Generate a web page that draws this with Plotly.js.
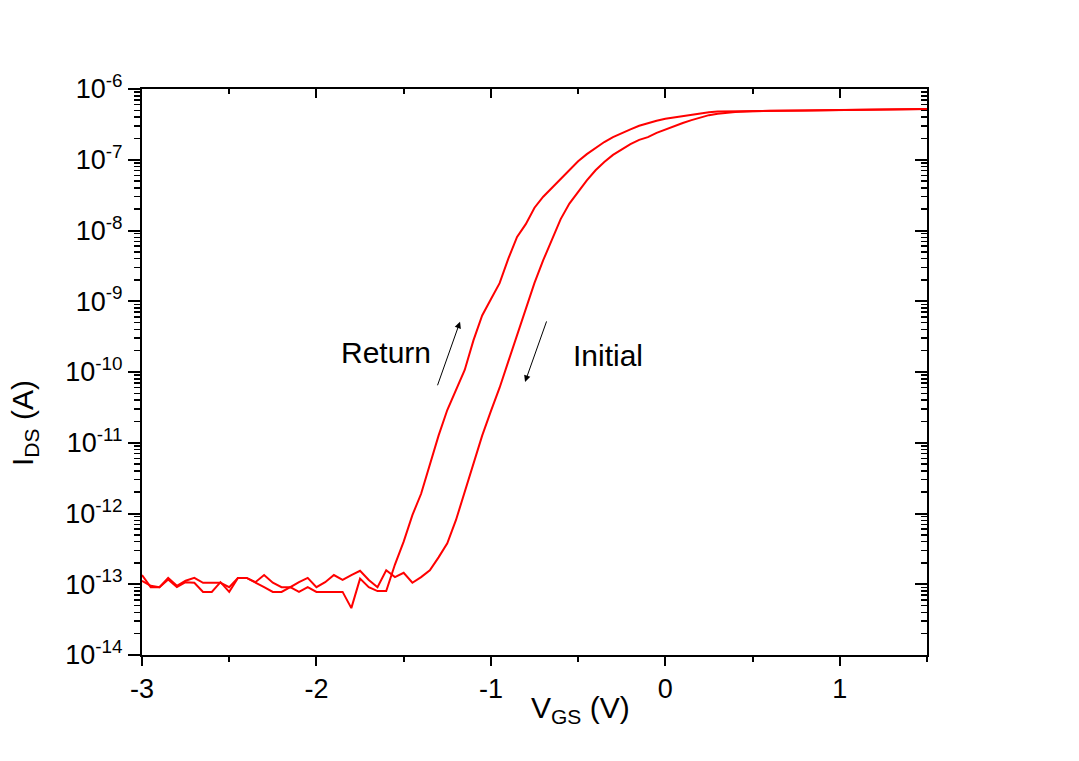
<!DOCTYPE html>
<html>
<head>
<meta charset="utf-8">
<script src="https://cdn.plot.ly/plotly-3.0.1.min.js"></script>
<style>html,body{margin:0;padding:0;background:#fff;}#chart{width:1079px;height:761px;}</style>
</head>
<body>
<div id="chart"></div>
<script>
// Gate voltage V_GS (V)
const vgs = [-3.00,-2.95,-2.90,-2.85,-2.80,-2.75,-2.70,-2.65,-2.60,-2.55,
  -2.50,-2.45,-2.40,-2.35,-2.30,-2.25,-2.20,-2.15,-2.10,-2.05,
  -2.00,-1.95,-1.90,-1.85,-1.80,-1.75,-1.70,-1.65,-1.60,-1.55,
  -1.50,-1.45,-1.40,-1.35,-1.30,-1.25,-1.20,-1.15,-1.10,-1.05,
  -1.00,-0.95,-0.90,-0.85,-0.80,-0.75,-0.70,-0.65,-0.60,-0.55,
  -0.50,-0.45,-0.40,-0.35,-0.30,-0.25,-0.20,-0.15,-0.10,-0.05,
  0.00,0.05,0.10,0.15,0.20,0.25,0.30,0.40,0.50,0.60,0.80,1.00,1.20,1.40,1.50];

// Initial sweep I_DS (A)
const idsInitial = [1.12e-13,9.5e-14,9.1e-14,1.23e-13,9.5e-14,1.12e-13,1.23e-13,1.05e-13,1.05e-13,1.05e-13,
  9.1e-14,1.23e-13,1.23e-13,1.07e-13,1.35e-13,1.05e-13,9.1e-14,9.1e-14,1.07e-13,1.23e-13,
  9.1e-14,1.07e-13,1.35e-13,1.15e-13,1.35e-13,1.55e-13,1.15e-13,9.1e-14,1.58e-13,1.26e-13,
  1.45e-13,1.05e-13,1.26e-13,1.58e-13,2.4e-13,3.8e-13,8.1e-13,2.04e-12,5.1e-12,1.26e-11,
  2.8e-11,6.0e-11,1.41e-10,3.3e-10,7.9e-10,1.82e-9,3.8e-9,7.6e-9,1.45e-8,2.4e-8,
  3.5e-8,5.1e-8,7.1e-8,9.3e-8,1.17e-7,1.41e-7,1.66e-7,1.91e-7,2.09e-7,2.40e-7,
  2.69e-7,2.95e-7,3.31e-7,3.63e-7,3.98e-7,4.27e-7,4.47e-7,4.73e-7,4.86e-7,4.92e-7,4.98e-7,5.04e-7,5.1e-7,5.17e-7,5.2e-7];

// Return sweep I_DS (A)
const idsReturn = [1.35e-13,9.1e-14,9.1e-14,1.17e-13,9.1e-14,1.07e-13,1.05e-13,7.8e-14,7.8e-14,1.07e-13,
  7.8e-14,1.23e-13,1.23e-13,1.07e-13,9.1e-14,7.8e-14,7.8e-14,9.1e-14,7.8e-14,9.1e-14,
  7.8e-14,7.8e-14,7.8e-14,7.8e-14,4.6e-14,1.2e-13,9.1e-14,8.0e-14,8.0e-14,1.9e-13,
  4.0e-13,9.5e-13,1.9e-12,4.8e-12,1.26e-11,2.9e-11,5.6e-11,1.07e-10,2.8e-10,6.3e-10,
  1.07e-9,1.8e-9,4.0e-9,8.1e-9,1.23e-8,2.1e-8,3.0e-8,4.0e-8,5.2e-8,7.1e-8,
  9.5e-8,1.20e-7,1.48e-7,1.78e-7,2.09e-7,2.40e-7,2.69e-7,3.02e-7,3.31e-7,3.55e-7,
  3.80e-7,3.98e-7,4.17e-7,4.37e-7,4.52e-7,4.68e-7,4.79e-7,4.85e-7,4.88e-7,4.92e-7,4.98e-7,5.04e-7,5.1e-7,5.17e-7,5.2e-7];

// Y tick labels
const yTickVals = [1e-14,1e-13,1e-12,1e-11,1e-10,1e-9,1e-8,1e-7,1e-6];
const yTickText = ['10<sup>-14</sup>','10<sup>-13</sup>','10<sup>-12</sup>','10<sup>-11</sup>','10<sup>-10</sup>',
  '10<sup>-9</sup>','10<sup>-8</sup>','10<sup>-7</sup>','10<sup>-6</sup>'];
const xTickVals = [-3,-2,-1,0,1];
const xTickText = ['-3','-2','-1','0','1'];

// minor log tick positions (2..9 per decade)
const minorY = [];
for (let e = -14; e < -6; e++) { for (let m = 2; m <= 9; m++) minorY.push(m * Math.pow(10, e)); }

const font = 'Liberation Sans, Arial, sans-serif';
const red = '#ff0000';

const traces = [
  {x: vgs, y: idsInitial, type: 'scatter', mode: 'lines', name: 'Initial',
   line: {color: red, width: 2}, xaxis: 'x', yaxis: 'y', hoverinfo: 'x+y'},
  {x: vgs, y: idsReturn, type: 'scatter', mode: 'lines', name: 'Return',
   line: {color: red, width: 2}, xaxis: 'x', yaxis: 'y', hoverinfo: 'x+y'},
  {x: [], y: [], type: 'scatter', mode: 'lines', xaxis: 'x2', yaxis: 'y2', showlegend: false}
];

const layout = {
  width: 1079, height: 761,
  margin: {l: 142, r: 152, t: 89, b: 106},
  paper_bgcolor: '#ffffff', plot_bgcolor: '#ffffff',
  showlegend: false,
  font: {family: font, color: '#000', size: 27},
  xaxis: {
    range: [-3, 1.5], showgrid: false, zeroline: false,
    showline: true, linecolor: '#000', linewidth: 2, mirror: false,
    ticks: 'outside', ticklen: 9, tickwidth: 2, tickcolor: '#000',
    tickmode: 'array', tickvals: xTickVals, ticktext: xTickText,
    tickfont: {family: font, size: 27, color: '#000'},
    minor: {tickmode: 'linear', tick0: -2.5, dtick: 1, ticks: 'outside', ticklen: 5, tickwidth: 2, tickcolor: '#000', showgrid: false}
  },
  yaxis: {
    type: 'log', range: [-14, -6], showgrid: false, zeroline: false,
    showline: true, linecolor: '#000', linewidth: 2, mirror: false,
    ticks: 'outside', ticklen: 12, tickwidth: 2, tickcolor: '#000',
    tickmode: 'array', tickvals: yTickVals, ticktext: yTickText,
    tickfont: {family: font, size: 27, color: '#000'},
    minor: {tickmode: 'array', tickvals: minorY, ticks: 'outside', ticklen: 6, tickwidth: 1.5, tickcolor: '#000', showgrid: false}
  },
  xaxis2: {
    overlaying: 'x', side: 'top', anchor: 'y2', range: [-3, 1.5],
    showgrid: false, zeroline: false, showline: true, linecolor: '#000', linewidth: 2,
    ticks: 'inside', ticklen: 9, tickwidth: 2, tickcolor: '#000', showticklabels: false,
    tickmode: 'array', tickvals: xTickVals,
    minor: {tickmode: 'linear', tick0: -2.5, dtick: 1, ticks: 'inside', ticklen: 5, tickwidth: 2, tickcolor: '#000', showgrid: false}
  },
  yaxis2: {
    overlaying: 'y', side: 'right', anchor: 'x2', type: 'log', range: [-14, -6],
    showgrid: false, zeroline: false, showline: true, linecolor: '#000', linewidth: 2,
    ticks: 'inside', ticklen: 12, tickwidth: 2, tickcolor: '#000', showticklabels: false,
    tickmode: 'array', tickvals: yTickVals,
    minor: {tickmode: 'array', tickvals: minorY, ticks: 'inside', ticklen: 6, tickwidth: 1.5, tickcolor: '#000', showgrid: false}
  },
  annotations: [
    {xref: 'paper', yref: 'paper', x: 0.558, y: -0.097, text: 'V<sub>GS</sub> (V)', showarrow: false,
     font: {family: font, size: 30, color: '#000'}, xanchor: 'center', yanchor: 'middle'},
    {xref: 'paper', yref: 'paper', x: -0.149, y: 0.41, text: 'I<sub>DS</sub> (A)', showarrow: false, textangle: -90,
     font: {family: font, size: 30, color: '#000'}, xanchor: 'center', yanchor: 'middle'},
    {xref: 'x', yref: 'y', x: -1.60, y: -9.73, text: 'Return', showarrow: false,
     font: {family: font, size: 30, color: '#000'}, xanchor: 'center', yanchor: 'middle'},
    {xref: 'x', yref: 'y', x: -0.33, y: -9.76, text: 'Initial', showarrow: false,
     font: {family: font, size: 30, color: '#000'}, xanchor: 'center', yanchor: 'middle'},
    {xref: 'x', yref: 'y', x: -1.177, y: -9.29, text: '', showarrow: true, ax: -23, ay: 65,
     arrowhead: 2, arrowsize: 1.3, arrowwidth: 1, arrowcolor: '#000'},
    {xref: 'x', yref: 'y', x: -0.804, y: -10.14, text: '', showarrow: true, ax: 22, ay: -62,
     arrowhead: 2, arrowsize: 1.3, arrowwidth: 1, arrowcolor: '#000'}
  ]
};

Plotly.newPlot('chart', traces, layout, {displayModeBar: false, staticPlot: true});
</script>
</body>
</html>
